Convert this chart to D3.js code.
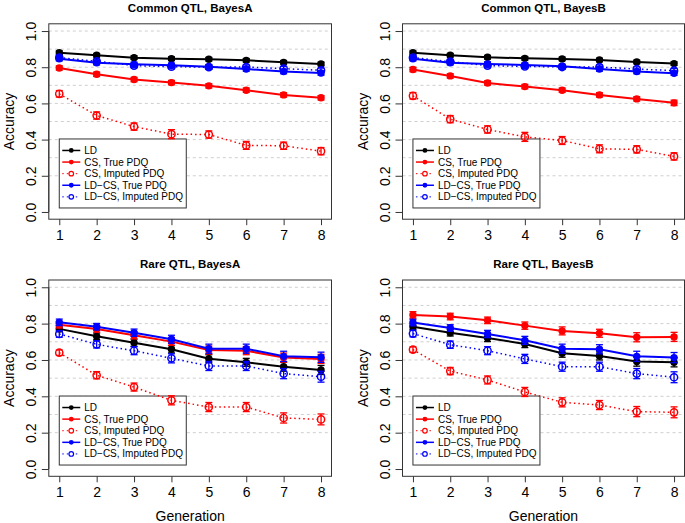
<!DOCTYPE html>
<html>
<head>
<meta charset="utf-8">
<script src="https://cdn.jsdelivr.net/npm/d3@7"></script>
<style>
  body { margin: 0; background: #fff; }
  svg { display: block; }
  text { font-family: "Liberation Sans", Arial, Helvetica, sans-serif; fill: #000; }
</style>
</head>
<body>
<svg id="chart" width="685" height="523"></svg>
<script>
// generations on the x axis
const generations = [1, 2, 3, 4, 5, 6, 7, 8];
const yTicks = [0, 0.2, 0.4, 0.6, 0.8, 1.0];
const gridValues = [0.2, 0.3, 0.4, 0.5, 0.6, 0.7, 0.8, 0.9, 1.0];
const seriesNames = ["LD", "CS, True PDQ", "CS, Imputed PDQ", "LD\u2212CS, True PDQ", "LD\u2212CS, Imputed PDQ"];
const panelTitles = ["Common QTL, BayesA", "Common QTL, BayesB", "Rare QTL, BayesA", "Rare QTL, BayesB"];

// Common QTL, BayesA
const commonA_LD      = [0.880, 0.866, 0.853, 0.847, 0.844, 0.838, 0.827, 0.818];
const commonA_csTrue  = [0.796, 0.761, 0.732, 0.715, 0.697, 0.673, 0.647, 0.631];
const commonA_csImp   = [0.653, 0.533, 0.472, 0.430, 0.428, 0.368, 0.366, 0.336];
const commonA_ldcsTrue = [0.847, 0.825, 0.816, 0.811, 0.803, 0.790, 0.776, 0.768];
const commonA_ldcsImp  = [0.853, 0.833, 0.809, 0.803, 0.800, 0.801, 0.792, 0.783];
// Common QTL, BayesB
const commonB_LD      = [0.880, 0.866, 0.855, 0.849, 0.846, 0.840, 0.829, 0.820];
const commonB_csTrue  = [0.787, 0.752, 0.713, 0.693, 0.673, 0.647, 0.625, 0.603];
const commonB_csImp   = [0.642, 0.513, 0.456, 0.415, 0.395, 0.349, 0.346, 0.307];
const commonB_ldcsTrue = [0.847, 0.825, 0.818, 0.812, 0.805, 0.790, 0.776, 0.767];
const commonB_ldcsImp  = [0.853, 0.831, 0.809, 0.805, 0.801, 0.801, 0.790, 0.781];
// Rare QTL, BayesA
const rareA_LD      = [0.771, 0.730, 0.695, 0.659, 0.607, 0.587, 0.563, 0.545];
const rareA_csTrue  = [0.794, 0.771, 0.736, 0.701, 0.655, 0.651, 0.613, 0.606];
const rareA_csImp   = [0.640, 0.516, 0.451, 0.378, 0.341, 0.341, 0.281, 0.273];
const rareA_ldcsTrue = [0.807, 0.783, 0.750, 0.714, 0.662, 0.662, 0.620, 0.615];
const rareA_ldcsImp  = [0.743, 0.686, 0.651, 0.609, 0.567, 0.567, 0.525, 0.508];
// Rare QTL, BayesB
const rareB_LD      = [0.783, 0.750, 0.721, 0.688, 0.637, 0.622, 0.591, 0.587];
const rareB_csTrue  = [0.848, 0.839, 0.818, 0.789, 0.760, 0.747, 0.725, 0.727];
const rareB_csImp   = [0.657, 0.539, 0.490, 0.424, 0.367, 0.352, 0.316, 0.312];
const rareB_ldcsTrue = [0.806, 0.776, 0.743, 0.708, 0.662, 0.659, 0.620, 0.613];
const rareB_ldcsImp  = [0.745, 0.684, 0.651, 0.606, 0.563, 0.563, 0.525, 0.505];

// standard errors (half length of error bars)
const commonA_err = [
  [0.010, 0.010, 0.010, 0.010, 0.010, 0.010, 0.010, 0.010],
  [0.012, 0.012, 0.012, 0.012, 0.012, 0.012, 0.012, 0.012],
  [0.018, 0.020, 0.020, 0.025, 0.020, 0.022, 0.020, 0.020],
  [0.012, 0.012, 0.012, 0.012, 0.012, 0.012, 0.012, 0.012],
  [0.012, 0.012, 0.012, 0.012, 0.012, 0.012, 0.012, 0.012]
];
const commonB_err = [
  [0.010, 0.010, 0.010, 0.010, 0.010, 0.010, 0.010, 0.010],
  [0.012, 0.012, 0.012, 0.012, 0.012, 0.012, 0.012, 0.015],
  [0.018, 0.020, 0.020, 0.025, 0.022, 0.022, 0.020, 0.020],
  [0.012, 0.012, 0.012, 0.012, 0.012, 0.012, 0.012, 0.012],
  [0.012, 0.012, 0.012, 0.012, 0.012, 0.012, 0.012, 0.012]
];
const rareA_err = [
  [0.015, 0.018, 0.020, 0.020, 0.022, 0.022, 0.025, 0.025],
  [0.018, 0.018, 0.020, 0.020, 0.022, 0.022, 0.025, 0.025],
  [0.015, 0.020, 0.022, 0.025, 0.025, 0.025, 0.028, 0.030],
  [0.018, 0.018, 0.020, 0.022, 0.025, 0.025, 0.028, 0.028],
  [0.018, 0.020, 0.022, 0.025, 0.025, 0.025, 0.028, 0.030]
];
const rareB_err = [
  [0.015, 0.018, 0.020, 0.020, 0.022, 0.022, 0.025, 0.025],
  [0.018, 0.018, 0.018, 0.020, 0.022, 0.022, 0.025, 0.025],
  [0.015, 0.020, 0.022, 0.025, 0.025, 0.025, 0.028, 0.030],
  [0.018, 0.018, 0.020, 0.022, 0.025, 0.025, 0.028, 0.028],
  [0.018, 0.020, 0.022, 0.025, 0.025, 0.025, 0.028, 0.030]
];

// drawing styles for the five series
const seriesStyle = [
  { color: "#000", dash: null, open: false },
  { color: "#ff0000", dash: null, open: false },
  { color: "#ff0000", dash: "1.5,3", open: true },
  { color: "#0000ff", dash: null, open: false },
  { color: "#0000ff", dash: "1.5,3", open: true }
];

const panels = [
  { title: panelTitles[0], box: [48.8, 331.5, 23.8, 219.2], values: [commonA_LD, commonA_csTrue, commonA_csImp, commonA_ldcsTrue, commonA_ldcsImp], errors: commonA_err, xlab: false },
  { title: panelTitles[1], box: [402.5, 684.5, 23.8, 219.2], values: [commonB_LD, commonB_csTrue, commonB_csImp, commonB_ldcsTrue, commonB_ldcsImp], errors: commonB_err, xlab: false },
  { title: panelTitles[2], box: [48.8, 331.5, 280.0, 476.3], values: [rareA_LD, rareA_csTrue, rareA_csImp, rareA_ldcsTrue, rareA_ldcsImp], errors: rareA_err, xlab: true },
  { title: panelTitles[3], box: [402.5, 684.5, 280.0, 476.3], values: [rareB_LD, rareB_csTrue, rareB_csImp, rareB_ldcsTrue, rareB_ldcsImp], errors: rareB_err, xlab: true }
];

const svg = d3.select("#chart");

function drawPanel(p) {
  const [x0, x1, y0, y1] = p.box;
  const x = d3.scaleLinear().domain([0.72, 8.28]).range([x0, x1]);
  const y = d3.scaleLinear().domain([-0.04, 1.04]).range([y1, y0]);
  const g = svg.append("g");

  // grid
  g.selectAll(".grid")
    .data(gridValues)
    .enter()
    .append("line")
    .attr("x1", x0).attr("x2", x1)
    .attr("y1", d => y(d)).attr("y2", d => y(d))
    .attr("stroke", "#cfcfcf")
    .attr("stroke-width", 1)
    .attr("stroke-dasharray", "3,3");

  // axes
  const yAxis = g.append("g")
    .attr("transform", "translate(" + x0 + ",0)")
    .call(d3.axisLeft(y).tickValues(yTicks).tickFormat(d3.format(".1f")).tickSize(7).tickPadding(4));
  yAxis.selectAll(".tick text")
    .attr("transform", "rotate(-90)")
    .attr("x", 0).attr("dx", 0).attr("dy", 0)
    .attr("y", -18)
    .attr("text-anchor", "middle")
    .attr("dominant-baseline", "central")
    .style("font-size", "14px");

  const xAxis = g.append("g")
    .attr("transform", "translate(0," + y1 + ")")
    .call(d3.axisBottom(x).tickValues(generations).tickFormat(d3.format("d")).tickSize(6).tickPadding(4));
  xAxis.selectAll(".tick text")
    .attr("y", 16).attr("dy", 0)
    .attr("dominant-baseline", "central")
    .style("font-size", "14px");

  g.selectAll(".domain").remove();
  g.selectAll(".tick line").attr("stroke", "#333");
  g.selectAll(".tick text").style("font-family", "'Liberation Sans', Arial, sans-serif").attr("fill", "#000");

  // y axis line from first to last tick
  g.append("line")
    .attr("x1", x0).attr("x2", x0)
    .attr("y1", y(0)).attr("y2", y(1))
    .attr("stroke", "#333");

  // box
  g.append("rect")
    .attr("x", x0).attr("y", y0)
    .attr("width", x1 - x0).attr("height", y1 - y0)
    .attr("fill", "none")
    .attr("stroke", "#333")
    .attr("stroke-width", 1);

  // title
  g.append("text")
    .attr("x", (x0 + x1) / 2)
    .attr("y", y0 - 16)
    .attr("text-anchor", "middle")
    .attr("dominant-baseline", "central")
    .style("font-size", "11.5px")
    .style("font-weight", "bold")
    .text(p.title);

  // axis titles
  g.append("text")
    .attr("transform", "translate(" + (x0 - 40) + "," + ((y0 + y1) / 2) + ") rotate(-90)")
    .attr("text-anchor", "middle")
    .attr("dominant-baseline", "central")
    .style("font-size", "14px")
    .text("Accuracy");

  if (p.xlab) {
    g.append("text")
      .attr("x", (x0 + x1) / 2)
      .attr("y", y1 + 40)
      .attr("text-anchor", "middle")
      .attr("dominant-baseline", "central")
      .style("font-size", "14px")
      .text("Generation");
  }

  // legend (bottom left), under the data marks
  const lx = x(1), lw = 127, lh = 69;
  const ly = y(0) - 4 - lh;
  const lg = g.append("g").attr("transform", "translate(" + lx + "," + ly + ")");
  lg.append("rect")
    .attr("width", lw).attr("height", lh)
    .attr("fill", "#fff")
    .attr("stroke", "#333")
    .attr("stroke-width", 1);
  seriesNames.forEach((name, s) => {
    const st = seriesStyle[s];
    const ry = 11.5 + s * 11.6;
    lg.append("line")
      .attr("x1", 3).attr("x2", 21).attr("y1", ry).attr("y2", ry)
      .attr("stroke", st.color)
      .attr("stroke-width", st.open ? 1 : 1.5)
      .attr("stroke-dasharray", st.dash);
    lg.append("circle")
      .attr("cx", 12).attr("cy", ry)
      .attr("r", st.open ? 2.3 : 2.4)
      .attr("fill", st.open ? "#fff" : st.color)
      .attr("stroke", st.color)
      .attr("stroke-width", st.open ? 1.2 : 0);
    lg.append("text")
      .attr("x", 25).attr("y", ry)
      .attr("dominant-baseline", "central")
      .style("font-size", "10px")
      .text(name);
  });

  const line = d3.line().x((d, i) => x(generations[i])).y(d => y(d));

  p.values.forEach((vals, s) => {
    const st = seriesStyle[s];
    const sg = g.append("g");
    sg.append("path")
      .attr("d", line(vals))
      .attr("fill", "none")
      .attr("stroke", st.color)
      .attr("stroke-width", st.open ? 1.5 : 2)
      .attr("stroke-dasharray", st.dash);

    // error bars
    const errs = p.errors[s];
    const eb = sg.selectAll(".eb").data(vals).enter().append("g");
    eb.append("line")
      .attr("x1", (d, i) => x(generations[i])).attr("x2", (d, i) => x(generations[i]))
      .attr("y1", (d, i) => y(d - errs[i])).attr("y2", (d, i) => y(d + errs[i]))
      .attr("stroke", st.color).attr("stroke-width", 1.3);
    [-1, 1].forEach(sign => {
      eb.append("line")
        .attr("x1", (d, i) => x(generations[i]) - 3.5).attr("x2", (d, i) => x(generations[i]) + 3.5)
        .attr("y1", (d, i) => y(d + sign * errs[i])).attr("y2", (d, i) => y(d + sign * errs[i]))
        .attr("stroke", st.color).attr("stroke-width", 1.3);
    });

    sg.selectAll(".pt").data(vals).enter().append("circle")
      .attr("cx", (d, i) => x(generations[i]))
      .attr("cy", d => y(d))
      .attr("r", st.open ? 3.6 : 3.7)
      .attr("fill", st.open ? "none" : st.color)
      .attr("stroke", st.color)
      .attr("stroke-width", st.open ? 1.5 : 0);
  });
}

panels.forEach(drawPanel);
</script>
</body>
</html>
